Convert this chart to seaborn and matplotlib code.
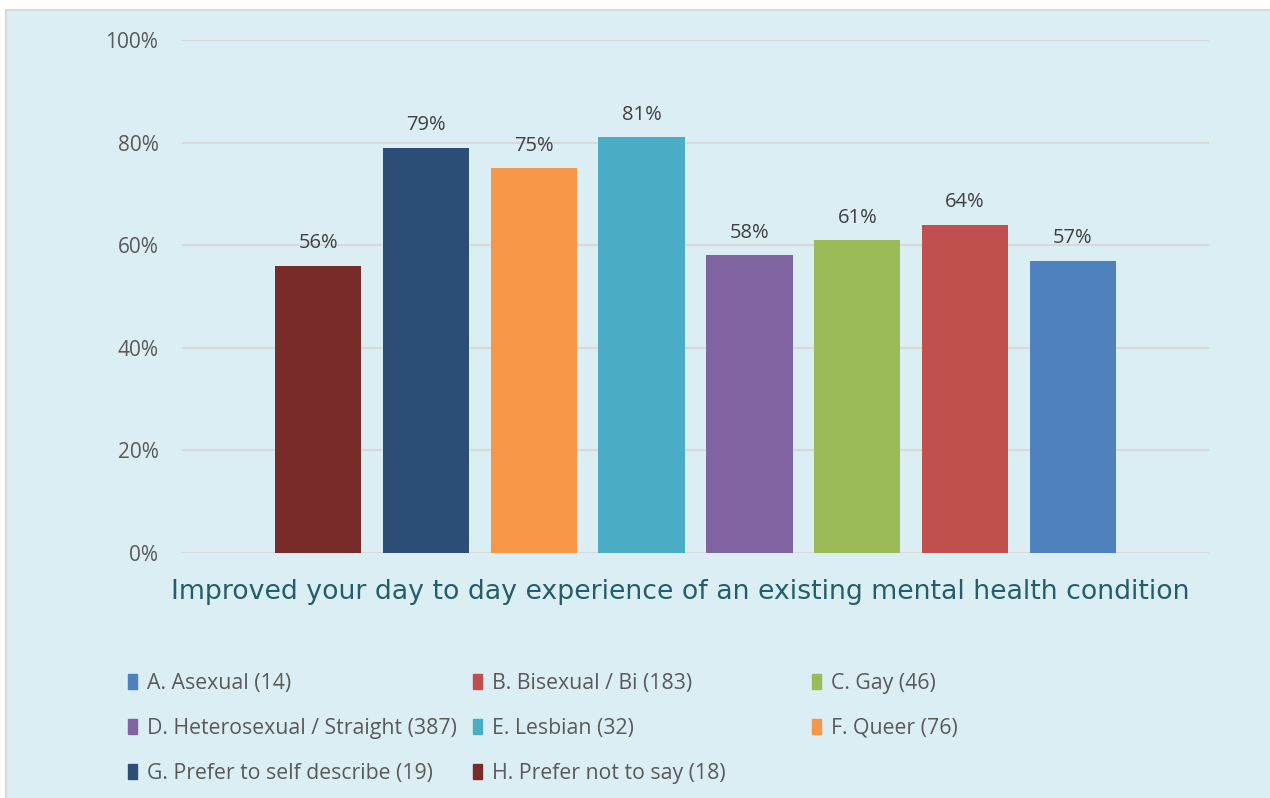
import pandas as pd
import matplotlib.pyplot as plt
import matplotlib.patches as mpatches
from matplotlib.transforms import ScaledTranslation
import seaborn as sns

# data
groups = ['A. Asexual (14)', 'B. Bisexual / Bi (183)', 'C. Gay (46)',
          'D. Heterosexual / Straight (387)', 'E. Lesbian (32)', 'F. Queer (76)',
          'G. Prefer to self describe (19)', 'H. Prefer not to say (18)']
values = [57, 64, 61, 58, 81, 75, 79, 56]
colors = ['#4F81BD', '#C0504D', '#9BBB59', '#8064A2', '#4BACC6', '#F79646',
          '#2C4D75', '#772C2A']
question = 'Improved your day to day experience of an existing mental health condition'

df = pd.DataFrame({'question': question, 'group': groups, 'value': values})
palette = dict(zip(groups, colors))

bg = '#DBEEF4'
sns.set_theme(style='white')
plt.rcParams['font.family'] = ['Open Sans', 'DejaVu Sans']

fig = plt.figure(figsize=(12.7, 7.98), dpi=100)
fig.patch.set_facecolor('white')
# chart panel with a thin grey frame
fig.add_artist(mpatches.Rectangle((6 / 1270, -0.01), 1.0, 1 - 10 / 798 + 0.01,
                                  transform=fig.transFigure, facecolor=bg,
                                  edgecolor='#D9D9D9', linewidth=1.5, zorder=-5))

ax = fig.add_axes([182 / 1270, 1 - 553 / 798, (1209 - 182) / 1270, (553 - 40) / 798])
ax.set_facecolor(bg)
ax.patch.set_alpha(0)

sns.barplot(data=df, x='question', y='value', hue='group',
            hue_order=groups[::-1], palette=palette, width=0.84, gap=0.2,
            saturation=1, linewidth=0, legend=False, ax=ax, zorder=3)

for c in ax.containers:
    ax.bar_label(c, labels=[f'{v:.0f}%' for v in c.datavalues], padding=9,
                 fontsize=14.5, color='#404040')

ax.set_ylim(0, 100)
ax.set_yticks(range(0, 101, 20))
ax.set_yticklabels([f'{t}%' for t in range(0, 101, 20)], fontsize=15, color='#595959')
ax.yaxis.grid(True, color='#D9D9D9', linewidth=1.5, zorder=0)
ax.set_axisbelow(True)
for s in ax.spines.values():
    s.set_visible(False)
ax.tick_params(axis='y', length=0, pad=17)
ax.tick_params(axis='x', length=0, pad=19)
shift = ScaledTranslation(-15 / 100, 0, fig.dpi_scale_trans)
for t in ax.get_xticklabels():
    t.set_fontsize(19.3)
    t.set_color('#245E6C')
    t.set_fontfamily('DejaVu Sans')
    t.set_transform(t.get_transform() + shift)
ax.set_xlabel('')
ax.set_ylabel('')

# legend in three columns, rows A-B-C / D-E-F / G-H
handles = [mpatches.Patch(color=c, label=g) for g, c in zip(groups, colors)]
col_x = [128 / 1270, 473 / 1270, 812 / 1270]
for i, x0 in enumerate(col_x):
    hs = handles[i::3]
    leg = fig.legend(handles=hs, loc='upper left', bbox_to_anchor=(x0, 1 - 673 / 798),
                     frameon=False, fontsize=15.3, handlelength=0.4, handleheight=0.7,
                     handletextpad=0.5, labelspacing=1.12, borderaxespad=0,
                     borderpad=0)
    for t in leg.get_texts():
        t.set_color('#595959')

fig.savefig('out.png', dpi=100, facecolor=fig.get_facecolor())
